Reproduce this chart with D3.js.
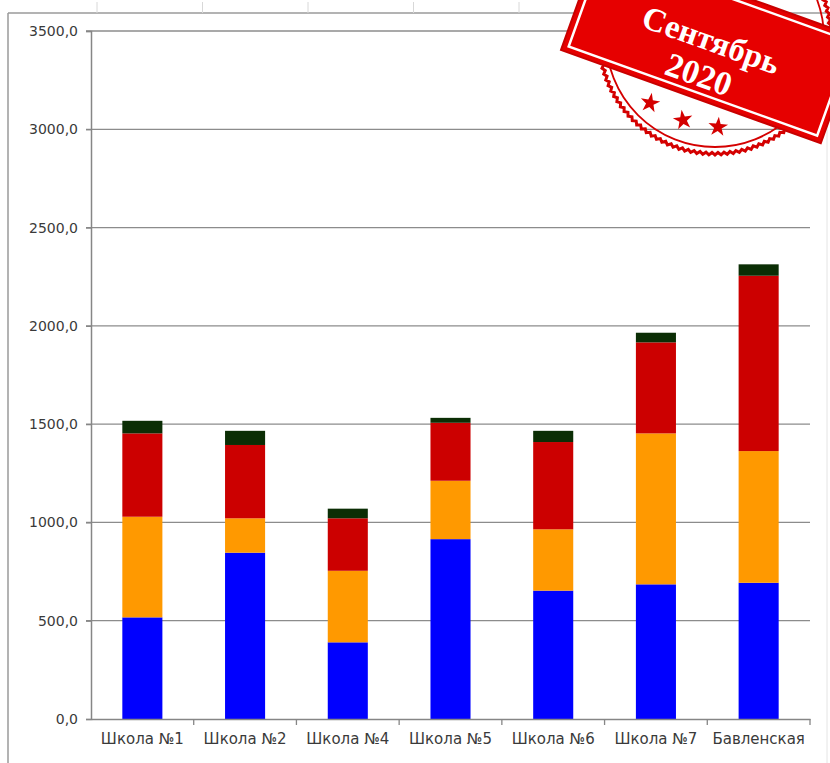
<!DOCTYPE html>
<html>
<head>
<meta charset="utf-8">
<script src="https://cdn.jsdelivr.net/npm/d3@7"></script>
<style>
  body { margin: 0; background: #fff; }
  svg { display: block; }
</style>
</head>
<body>
<script>
// Данные по школам
const schools = ["Школа №1", "Школа №2", "Школа №4", "Школа №5", "Школа №6", "Школа №7", "Бавленская"];
const blueVals   = [517, 846, 390, 915, 653, 685, 693];
const orangeVals = [512, 175, 364, 297, 312, 768, 670];
const redVals    = [424, 373, 267, 295, 444, 463, 892];
const greenVals  = [64, 72, 49, 25, 57, 49, 58];
const yTicks = [0, 500, 1000, 1500, 2000, 2500, 3000, 3500];
const seriesColors = ["#0000ff", "#ff9900", "#cc0000", "#0b2e05"];

const W = 830, H = 763;
const svg = d3.select("body").append("svg").attr("width", W).attr("height", H);

// Рамка листа
svg.append("line").attr("x1", 8).attr("x2", W).attr("y1", 13).attr("y2", 13)
   .style("stroke", "#9a9a9a").style("stroke-width", 1.5);
svg.append("line").attr("x1", 8).attr("x2", 8).attr("y1", 13).attr("y2", H)
   .style("stroke", "#9a9a9a").style("stroke-width", 1.5);
svg.append("line").attr("x1", 827).attr("x2", 827).attr("y1", 13).attr("y2", H)
   .style("stroke", "#e4e4e4").style("stroke-width", 1);
for (var k = 0; k < 7; k++) {
    svg.append("line").attr("x1", 97 + k * 105.5).attr("x2", 97 + k * 105.5)
       .attr("y1", 2).attr("y2", 13)
       .style("stroke", "#d8d8d8").style("stroke-width", 1);
}

const x = d3.scaleBand().domain(schools).range([91, 810]).paddingInner(0).paddingOuter(0);
const y = d3.scaleLinear().domain([0, 3500]).range([719, 31]);

// Сетка
svg.append("g").selectAll("line").data(yTicks.slice(1)).enter().append("line")
   .attr("x1", 86).attr("x2", 810)
   .attr("y1", d => y(d)).attr("y2", d => y(d))
   .style("stroke", "#8c8c8c").style("stroke-width", 1.3);

// Стек
const rows = schools.map((s, i) => ({
    school: s, b: blueVals[i], o: orangeVals[i], r: redVals[i], g: greenVals[i]
}));
const stack = d3.stack().keys(["b", "o", "r", "g"]);
const layers = stack(rows);
const barW = x.bandwidth() * 0.39;

svg.append("g").selectAll("g").data(layers).enter().append("g")
   .style("fill", (d, i) => seriesColors[i])
   .selectAll("rect").data(d => d).enter().append("rect")
   .attr("x", d => x(d.data.school) + (x.bandwidth() - barW) / 2)
   .attr("width", barW)
   .attr("y", d => y(d[1]))
   .attr("height", d => y(d[0]) - y(d[1]));

// Оси
const yAxis = d3.axisLeft(y).tickValues(yTicks).tickSize(5).tickPadding(8)
                .tickFormat(d => d3.format(".1f")(d).replace(".", ","));
const gy = svg.append("g").attr("transform", "translate(91,0)").call(yAxis);
const xAxis = d3.axisBottom(x).tickSize(0).tickPadding(14);
const gx = svg.append("g").attr("transform", "translate(0,719)").call(xAxis);

[gx, gy].forEach(function (g) {
    g.select(".domain").style("stroke", "#868686").style("stroke-width", 1.5);
    g.selectAll(".tick line").style("stroke", "#868686").style("stroke-width", 1.3);
    g.selectAll("text").style("font-family", "DejaVu Sans, Verdana, sans-serif")
     .style("font-size", "14px").style("fill", "#3a3a3a");
});
gx.selectAll("text").style("font-size", "15px");
// засечки по границам категорий
svg.append("g").selectAll("line").data(schools).enter().append("line")
   .attr("x1", d => x(d) + x.bandwidth()).attr("x2", d => x(d) + x.bandwidth())
   .attr("y1", 719).attr("y2", 725)
   .style("stroke", "#868686").style("stroke-width", 1.3);

// Штамп "Сентябрь 2020"
const stampRed = "#e60000";
const stamp = svg.append("g");

// круг с зубчиками
const cx = 715, cy = 38, R = 115;
var teeth = [];
for (var a = 0; a <= 360; a += 1.5) {
    var rr = Math.round(a / 1.5) % 2 == 0 ? R + 2 : R - 0.5;
    teeth.push([cx + rr * Math.cos(a * Math.PI / 180), cy + rr * Math.sin(a * Math.PI / 180)]);
}
stamp.append("path").attr("d", d3.line()(teeth) + "Z")
     .style("fill", "none").style("stroke", "#d40000").style("stroke-width", 3);
stamp.append("circle").attr("cx", cx).attr("cy", cy).attr("r", R - 6)
     .style("fill", "none").style("stroke", "#d40000").style("stroke-width", 1.8);

// звёзды
const starPos = [[650, 103, 10], [683, 120, -8], [718, 127, 5]];
stamp.selectAll("path.star").data(starPos).enter().append("path")
     .attr("class", "star")
     .attr("d", d3.symbol().type(d3.symbolStar).size(120))
     .attr("transform", d => "translate(" + d[0] + "," + d[1] + ") rotate(" + d[2] + ")")
     .style("fill", "#d40000");

// прямоугольник
const plate = stamp.append("g").attr("transform", "translate(561,50) rotate(19.75)");
plate.append("rect").attr("x", 0).attr("y", -112).attr("width", 276).attr("height", 112)
     .style("fill", stampRed).style("stroke", "#c80000").style("stroke-width", 2);
plate.append("rect").attr("x", 6).attr("y", -106).attr("width", 264).attr("height", 100)
     .style("fill", "none").style("stroke", "#fff").style("stroke-width", 2.5);
plate.append("text").attr("x", 138).attr("y", -49)
     .style("text-anchor", "middle").style("font-family", "Liberation Serif, serif")
     .style("font-weight", "bold").style("font-size", "33px").style("fill", "#fff")
     .text("Сентябрь");
plate.append("text").attr("x", 138).attr("y", -12)
     .style("text-anchor", "middle").style("font-family", "Liberation Serif, serif")
     .style("font-weight", "bold").style("font-size", "34px").style("fill", "#fff")
     .text("2020");
</script>
</body>
</html>
